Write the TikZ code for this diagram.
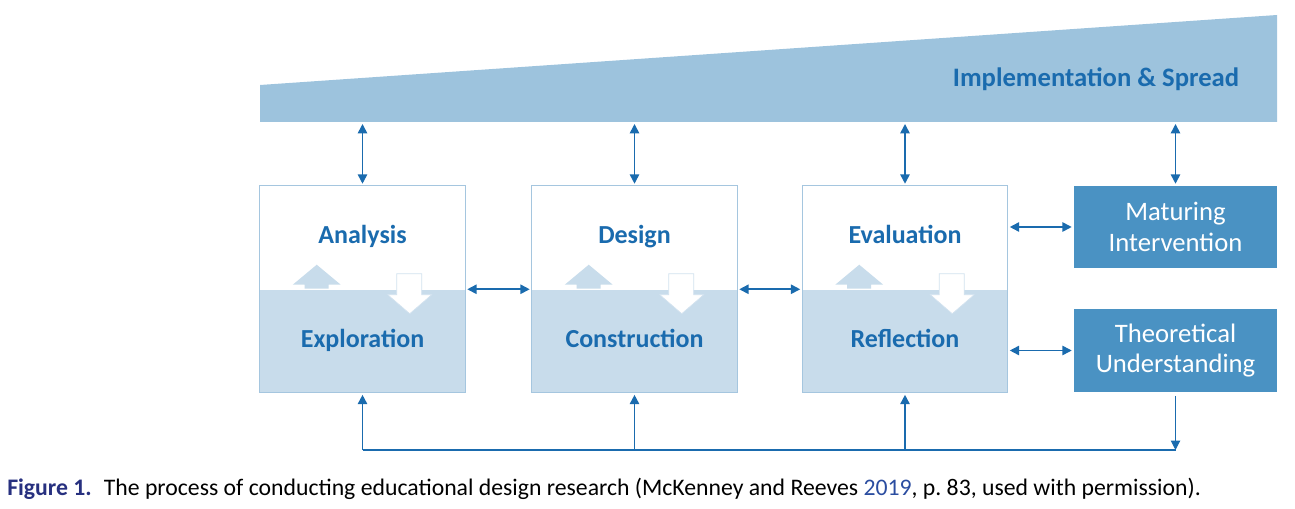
\documentclass[tikz,border=0pt]{standalone}
\usepackage{fontspec}
\setmainfont{Carlito}
\usetikzlibrary{arrows.meta,positioning,calc}

\definecolor{edrblue}{HTML}{1A6BAE}
\definecolor{edrwedge}{HTML}{9DC3DD}
\definecolor{edrlight}{HTML}{C8DCEB}
\definecolor{edrline}{HTML}{A5C6DF}
\definecolor{edrdark}{HTML}{4A92C3}
\definecolor{edrnavy}{HTML}{27307F}
\definecolor{edrlink}{HTML}{2B4DA0}

\tikzset{
    phase/.style={rectangle, minimum width=153.75pt, minimum height=77.25pt, inner sep=0pt,
        text=edrblue, text height=13pt, text depth=3.5pt,
        font=\bfseries\fontsize{19.5}{23}\selectfont},
    upper/.style={phase, fill=white},
    lower/.style={phase, fill=edrlight},
    frame/.style={draw=edrline, line width=0.8pt},
    outcome/.style={rectangle, fill=edrdark, minimum width=152.25pt, minimum height=61.5pt,
        inner sep=0pt, text=white, align=center, font=\fontsize{20}{23}\selectfont},
    link/.style={<->, edrblue, line width=1.2pt, shorten >=1.5pt, shorten <=1.5pt}
}

\begin{document}
\begin{tikzpicture}[
    x=0.75pt,
    y=-0.75pt,
    >={Triangle[length=7pt,width=7pt]}
]
	\useasboundingbox (0,0) rectangle (1295,509);

	% implementation wedge
	\coordinate (wtl) at (260,85);
	\coordinate (wtr) at (1277,15);
	\coordinate (wbr) at (1277,122);
	\coordinate (wbl) at (260,122);
	\fill[edrwedge] (wtl) -- (wtr) -- (wbr) -- (wbl) -- cycle;
	\node[text=edrblue, font=\bfseries\fontsize{20}{23}\selectfont] (impl) at (1096,79) {Implementation \& Spread};

	% phases
	\node[upper] (ana) at (362.5,237.5) {Analysis};
	\node[lower, below=0pt of ana] (expl) {Exploration};
	\node[upper] (des) at (634.5,237.5) {Design};
	\node[lower, below=0pt of des] (cons) {Construction};
	\node[upper] (eva) at (905,237.5) {Evaluation};
	\node[lower, below=0pt of eva] (refl) {Reflection};
	\draw[frame] (ana.north west) rectangle (expl.south east);
	\draw[frame] (des.north west) rectangle (cons.south east);
	\draw[frame] (eva.north west) rectangle (refl.south east);

	% outputs
	\node[outcome] (mat) at (1175.5,227) {Maturing\\Intervention};
	\node[outcome] (theo) at (1175.5,350.5) {Theoretical\\Understanding};

	% fat arrows inside each phase
	\foreach \p in {ana,des,eva} {
		\fill[edrlight] ($(\p.north west)+(45,103)$) -- ++(0,-4) -- ++(-12,0) -- ++(24,-20)
			-- ++(24,20) -- ++(-12,0) -- ++(0,4) -- cycle;
		\filldraw[fill=white, draw=edrline!50, line width=0.5pt] ($(\p.north west)+(137,88)$) -- ++(25,0)
			-- ++(0,21) -- ++(10,0) -- ++(-22,19) -- ++(-22,-19) -- ++(9,0) -- cycle;
	}

	% links to the wedge
	\foreach \p in {ana,des,eva,mat}
		\draw[link] (\p.north |- wbl) -- (\p.north);

	% links between boxes
	\draw[link] (ana.south east) -- (des.south west);
	\draw[link] (des.south east) -- (eva.south west);
	\draw[link] (eva.east |- mat.west) -- (mat.west);
	\draw[link] (refl.east |- theo.west) -- (theo.west);

	% feedback loop
	\coordinate (fb) at (1175.5,450);
	\draw[->, edrblue, line width=0.8pt, shorten >=0pt, shorten <=3pt] (theo.south) -- (fb);
	\draw[edrblue, line width=1.6pt] (fb) -- (fb -| expl.south);
	\foreach \p in {expl,cons,refl}
		\draw[->, edrblue, line width=1.2pt, shorten >=1.5pt] (\p.south |- fb) -- (\p.south);

	% caption
	\node[anchor=base west, inner sep=0pt, font=\fontsize{17.8}{22}\selectfont] (cap) at (7,495)
		{\textcolor{edrnavy}{\bfseries Figure 1.}\hspace{9pt}The process of conducting educational design research (McKenney and Reeves \textcolor{edrlink}{2019}, p.~83, used with permission).};
\end{tikzpicture}
\end{document}
